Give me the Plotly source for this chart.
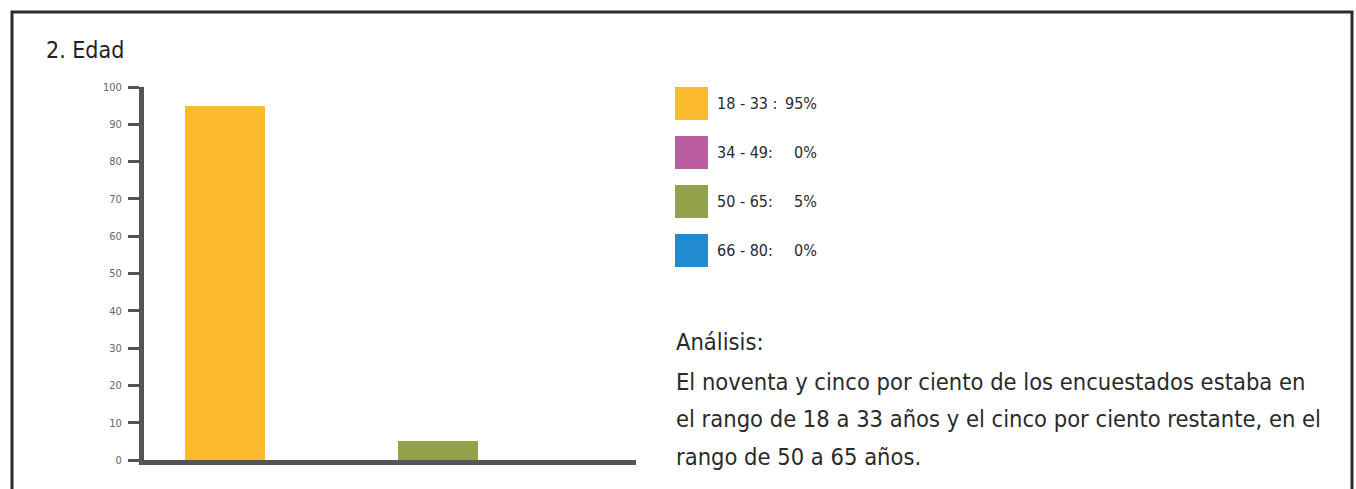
import plotly.graph_objects as go

W, H = 1356, 489

# ---- data ----
age_groups = ["18 - 33", "34 - 49", "50 - 65", "66 - 80"]
percent = [95, 0, 5, 0]
legend_labels = ["18 - 33 :", "34 - 49:", "50 - 65:", "66 - 80:"]
legend_pct = ["95%", "0%", "5%", "0%"]
colors = ["#FBBA2E", "#B95CA0", "#92A24A", "#228BCF"]
y_ticks = [0, 10, 20, 30, 40, 50, 60, 70, 80, 90, 100]
title_text = "2. Edad"
analysis_lines = [
    "Análisis:",
    "El noventa y cinco por ciento de los encuestados estaba en",
    "el rango de 18 a 33 años y el cinco por ciento restante, en el",
    "rango de 50 a 65 años.",
]

FONT = "DejaVu Sans Condensed, Liberation Sans Narrow, Roboto, sans-serif"
AX = "#555555"
TXT = "#2a2a2a"


def px_x(p):
    return p / W


def px_y(p):
    return (H - p) / H


fig = go.Figure()

# main bars
fig.add_trace(go.Bar(
    x=list(range(len(age_groups))), y=percent,
    marker=dict(color=colors, line=dict(width=0)),
    width=0.75, xaxis="x", yaxis="y", showlegend=False,
    hoverinfo="skip",
))

# legend swatches
fig.add_trace(go.Scatter(
    x=[0] * len(legend_labels), y=list(range(len(legend_labels))),
    mode="markers",
    marker=dict(symbol="square", size=33, color=colors, line=dict(width=0)),
    xaxis="x2", yaxis="y2", showlegend=False, hoverinfo="skip",
))

annotations = []
for i, (lab, pct) in enumerate(zip(legend_labels, legend_pct)):
    annotations.append(dict(x=23.5, y=i, xref="x2", yref="y2", text=lab,
                            showarrow=False, xanchor="left", yanchor="middle",
                            font=dict(family=FONT, size=16, color=TXT)))
    annotations.append(dict(x=127, y=i, xref="x2", yref="y2", text=pct,
                            showarrow=False, xanchor="right", yanchor="middle",
                            font=dict(family=FONT, size=16, color=TXT)))

# title
annotations.append(dict(x=px_x(44), y=px_y(50), xref="paper", yref="paper",
                        text=title_text, showarrow=False, xanchor="left",
                        yanchor="middle",
                        font=dict(family=FONT, size=23, color="#222222")))

# analysis text
line_y = [342, 382, 419, 457]
for t, yy in zip(analysis_lines, line_y):
    annotations.append(dict(x=px_x(674), y=px_y(yy), xref="paper", yref="paper",
                            text=t, showarrow=False, xanchor="left",
                            yanchor="middle",
                            font=dict(family=FONT, size=23.5, color=TXT)))

shapes = [dict(type="rect", xref="paper", yref="paper",
               x0=px_x(12), x1=px_x(1352), y0=-0.2, y1=px_y(12),
               line=dict(color="#2b2b2b", width=3), fillcolor="rgba(0,0,0,0)",
               layer="above")]

fig.update_layout(
    width=W, height=H,
    margin=dict(l=0, r=0, t=0, b=0, autoexpand=False),
    paper_bgcolor="white", plot_bgcolor="white",
    bargap=0,
    xaxis=dict(domain=[px_x(144), px_x(636)],
               range=[(144 - 225) / 106.5, (636 - 225) / 106.5],
               showline=True, linecolor=AX, linewidth=5,
               showgrid=False, zeroline=False, ticks="",
               showticklabels=False, fixedrange=True, automargin=False),
    yaxis=dict(domain=[px_y(460), px_y(87)], range=[0, 100],
               tickvals=y_ticks, ticks="outside", ticklen=11, tickwidth=3,
               tickcolor=AX, showline=True, linecolor=AX, linewidth=5,
               showgrid=False, zeroline=False,
               tickfont=dict(family=FONT, size=11, color="#666666"),
               ticklabelstandoff=4, fixedrange=True, automargin=False),
    xaxis2=dict(domain=[px_x(675), px_x(900)], range=[-16.5, 208.5],
                visible=False, fixedrange=True, automargin=False),
    yaxis2=dict(domain=[px_y(275), px_y(79)], range=[3.5, -0.5],
                visible=False, fixedrange=True, automargin=False),
    annotations=annotations,
    shapes=shapes,
)

reset_css = (
    "var s=document.createElement('style');"
    "s.textContent='html,body{margin:0;padding:0;overflow:hidden;"
    "width:1356px;height:489px;}"
    ".plotly-graph-div{display:block;}';"
    "document.head.appendChild(s);"
)

fig.write_html(
    "out.html",
    config={"displayModeBar": False, "staticPlot": True},
    post_script=reset_css,
)
